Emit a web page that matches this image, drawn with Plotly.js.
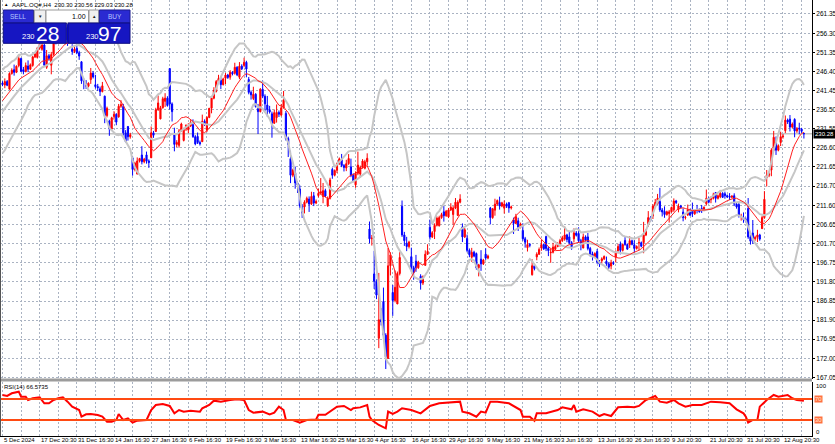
<!DOCTYPE html>
<html><head><meta charset="utf-8">
<script src="https://cdn.plot.ly/plotly-3.0.1.min.js"></script>
<style>html,body{margin:0;padding:0;background:#fff;overflow:hidden}#chart{width:835px;height:444px}</style>
</head><body><div id="chart"></div>
<script>
// ---------- data ----------
const timeLabels = ['5 Dec 2024','17 Dec 20:30','31 Dec 16:30','14 Jan 16:30','27 Jan 16:30','6 Feb 16:30','19 Feb 16:30','3 Mar 16:30','13 Mar 16:30','25 Mar 16:30','4 Apr 16:30','16 Apr 16:30','29 Apr 16:30','9 May 16:30','21 May 16:30','3 Jun 16:30','13 Jun 16:30','26 Jun 16:30','9 Jul 20:30','21 Jul 20:30','31 Jul 20:30','12 Aug 20:30'];
const priceLabels = ['261.35','256.30','251.35','246.40','241.45','236.50','231.55','226.60','221.65','216.70','211.60','206.65','201.70','196.75','191.80','186.85','181.90','176.95','172.00','167.05'];
// closes of the H4 bars just before the first visible bar (indicator warm-up only, not drawn)
const warmupClose = [229.0,228.0,228.52,229.3,229.87,231.8,232.87,234.3,235.06,234.6,234.93,237.33,238.6,239.59,241.6,242.65,242.3,243.01,243.6];
const open = [243.4,242.9,243.8,241.83,245.9,246.89,246.2,247.96,249.8,246.89,246.4,247.82,247.0,247.99,250.2,250.08,252.5,252.16,253.3,247.5,250.5,248.04,250.8,254.77,254.3,255.49,258.19,258.8,257.83,254.6,252.23,251.6,252.44,251.3,248.93,244.0,243.36,242.6,244.31,246.0,242.98,242.5,241.92,241.2,240.01,235.0,233.53,231.5,234.75,235.3,234.64,237.4,237.35,230.5,232.12,229.5,224.0,221.0,219.79,223.2,224.74,223.0,224.78,223.2,224.02,230.5,230.85,236.5,234.12,237.0,238.67,239.5,247.19,238.0,229.99,227.5,227.25,231.0,228.53,231.5,231.29,232.3,232.6,229.5,229.57,228.0,228.2,233.5,231.2,234.5,236.91,239.5,241.25,243.8,244.15,243.0,244.66,245.5,244.94,246.2,245.95,247.5,244.93,247.8,248.0,248.8,244.33,241.0,239.41,240.5,236.95,236.0,241.79,240.0,237.71,236.5,235.42,233.0,234.44,235.8,235.11,237.0,235.54,229.0,223.81,219.5,220.14,217.5,215.95,211.5,211.25,212.5,213.31,212.0,214.16,212.3,214.22,214.8,213.99,215.5,211.56,213.5,221.0,219.5,220.77,222.5,223.51,222.0,221.39,222.5,221.67,219.5,217.01,220.0,219.81,221.5,221.32,223.0,205.54,203.0,193.89,192.0,177.2,182.0,186.7,178.0,171.95,196.0,189.07,187.0,186.1,194.0,211.44,204.0,201.86,201.0,198.36,195.5,197.2,195.5,193.27,191.5,196.12,199.0,206.0,203.5,204.89,206.5,206.37,208.5,210.0,209.0,208.69,210.5,209.3,211.0,209.08,212.5,206.09,203.5,203.1,200.0,198.21,199.5,199.17,195.5,197.72,196.5,199.0,198.0,210.97,208.5,210.43,212.0,212.43,211.5,210.95,212.0,212.36,211.0,207.91,207.0,207.67,206.0,205.17,203.0,200.71,201.5,193.67,196.0,198.3,199.0,200.59,201.5,203.58,200.5,199.37,199.5,200.28,201.0,201.35,202.5,202.91,204.0,203.5,202.0,203.0,204.5,204.39,202.5,200.6,203.5,203.5,200.5,199.08,198.3,199.73,197.0,197.3,197.8,197.2,196.5,195.94,196.8,198.24,199.5,201.63,200.0,202.59,201.5,201.45,202.5,201.43,200.5,201.89,202.0,202.01,204.0,206.67,208.5,208.91,211.5,212.15,212.68,210.5,210.1,209.3,209.53,210.0,210.51,212.8,210.57,211.5,209.93,208.5,209.22,210.5,210.3,209.5,210.57,210.5,210.87,210.5,212.1,213.5,213.14,213.5,215.0,213.5,213.9,214.8,214.7,214.2,214.03,213.8,214.18,212.0,211.9,209.0,208.49,208.0,210.87,203.5,204.51,203.0,203.4,204.0,205.63,208.5,218.88,219.5,220.83,226.0,227.92,226.0,228.01,229.5,231.07,233.8,234.06,232.0,234.0,231.0,231.7,231.5,230.3];
const high = [243.9,244.63,244.2,246.2,247.24,248.21,248.0,250.8,250.0,247.6,248.74,249.29,248.5,250.5,251.38,252.8,253.83,254.28,253.6,252.0,251.0,251.5,255.0,255.3,255.65,258.21,260.1,259.5,258.7,256.0,253.5,252.8,253.28,251.8,249.1,244.6,244.18,243.6,247.33,246.5,245.55,243.2,242.5,243.71,240.16,237.3,233.9,234.67,236.12,235.6,238.0,238.96,238.01,231.2,232.29,230.5,224.42,223.0,224.12,224.0,227.03,224.0,225.63,223.6,232.15,231.0,237.0,240.19,237.5,239.86,240.79,240.0,247.19,238.4,231.83,228.6,231.5,233.13,231.8,232.67,233.0,233.8,234.0,229.9,230.59,228.5,235.23,234.0,234.8,236.96,240.0,242.34,244.2,245.55,245.18,244.8,246.01,245.8,246.78,246.5,248.69,247.8,248.86,248.3,250.0,249.2,244.98,241.5,242.46,240.8,238.0,242.09,244.03,240.5,240.07,237.5,236.0,236.55,237.86,236.3,238.0,241.37,236.16,229.5,225.84,221.2,221.75,218.0,216.84,212.0,213.0,213.95,214.0,215.22,215.15,213.2,216.0,218.76,217.49,216.0,214.0,218.84,221.48,221.0,222.8,224.1,225.02,222.4,223.5,224.99,223.81,220.0,220.5,225.62,222.0,223.68,223.5,225.19,207.49,204.0,199.88,192.5,194.15,185.0,190.34,178.5,200.61,199.5,191.0,194.78,194.5,199.54,212.94,204.8,203.51,202.5,200.7,196.0,198.83,197.3,193.8,193.5,200.0,201.59,208.0,205.0,207.0,208.83,209.0,209.75,211.5,210.5,211.0,212.24,211.5,213.58,213.0,214.56,206.99,205.8,204.1,200.5,200.65,199.9,199.44,196.5,200.05,197.8,200.54,198.9,211.27,211.0,213.4,213.2,213.94,212.6,212.96,212.4,212.57,211.6,208.5,209.48,208.47,207.2,207.04,203.5,202.75,201.9,197.7,196.5,199.5,200.74,202.73,201.8,203.81,201.0,200.5,201.96,201.5,202.13,203.0,203.77,206.24,204.3,204.75,202.4,205.7,205.0,206.0,203.0,204.35,203.9,204.5,200.9,199.68,199.5,200.37,197.5,198.2,198.69,198.39,196.9,197.57,197.2,200.0,201.7,202.3,201.8,203.44,201.8,203.67,202.8,202.64,201.3,203.22,202.3,207.39,205.5,210.19,208.9,212.0,213.34,214.65,216.23,211.0,211.43,210.3,210.5,211.33,213.48,213.1,212.13,211.8,210.91,209.0,211.89,210.8,212.4,210.5,211.8,210.9,211.79,211.4,215.78,213.9,214.0,214.95,215.15,214.5,215.69,215.1,215.24,214.5,214.85,214.3,214.81,212.3,212.39,209.5,209.84,208.5,213.58,204.0,207.88,203.8,205.34,204.3,209.0,215.38,220.85,220.5,226.5,231.0,229.56,227.5,230.8,230.2,235.0,234.2,235.12,233.2,234.28,232.0,233.12,231.8,230.56];
const low = [242.6,242.08,242.6,241.75,245.6,245.34,246.0,247.5,246.26,245.68,246.2,246.24,246.8,247.65,249.9,249.78,252.1,251.8,247.74,247.09,249.2,245.69,250.5,253.45,254.1,255.29,257.63,258.3,253.06,254.0,250.75,251.2,250.9,249.43,243.2,241.82,241.89,242.3,243.2,244.6,242.0,241.35,240.05,241.0,233.0,234.5,229.72,231.2,233.9,232.47,234.43,237.0,229.8,228.03,228.48,229.0,219.38,220.5,219.79,222.8,222.3,222.6,222.5,221.41,223.98,229.2,230.81,236.2,234.01,236.8,237.21,237.3,236.5,233.44,225.7,226.8,226.65,230.7,228.27,231.0,230.43,232.0,229.2,227.26,227.6,227.2,228.13,232.3,230.68,234.3,235.57,239.2,240.99,243.5,241.84,242.8,243.16,244.5,244.29,245.4,245.6,245.22,244.42,246.8,247.5,244.91,240.5,239.13,239.0,237.06,230.2,235.8,239.5,236.11,234.68,235.5,229.23,232.8,233.16,234.6,234.76,236.8,228.5,224.22,217.45,219.0,216.0,214.91,211.0,208.42,209.58,212.2,209.97,211.8,211.49,212.0,213.75,214.5,212.22,213.8,211.28,213.2,218.58,219.2,220.08,222.2,221.6,220.47,220.56,222.2,219.0,217.68,216.23,219.5,218.9,221.2,221.02,222.0,201.8,201.25,190.0,187.34,174.62,180.5,177.5,169.21,171.89,193.5,183.0,186.5,186.06,193.5,203.5,201.16,199.8,200.5,194.5,192.37,194.42,195.2,189.81,191.0,195.97,198.8,202.8,203.2,202.94,206.2,206.2,208.2,207.46,208.7,208.37,210.2,206.67,210.7,208.9,212.2,202.16,203.2,199.5,198.21,197.02,198.2,195.0,193.25,194.68,196.2,197.54,197.7,206.75,208.2,209.0,211.6,210.58,211.2,209.54,211.0,209.77,210.6,204.26,206.8,205.03,205.7,202.5,200.71,199.7,200.8,193.46,194.8,197.43,198.8,199.9,200.1,199.8,198.51,196.78,199.2,200.12,200.8,200.96,202.2,202.5,202.1,201.5,200.15,202.05,203.6,202.0,200.02,200.57,202.3,200.0,198.41,197.36,198.0,196.5,195.7,196.56,197.5,196.0,195.21,195.07,196.2,196.86,199.2,198.96,199.7,201.2,200.2,200.62,201.3,199.46,200.2,200.0,200.8,199.26,203.7,206.14,207.4,208.14,211.2,211.81,210.0,208.8,208.45,209.0,207.22,209.8,210.03,212.0,209.86,210.9,207.54,208.0,208.92,209.0,208.64,209.2,209.59,209.8,209.7,210.2,211.63,212.2,212.23,213.2,212.41,213.2,213.53,213.6,213.4,213.6,213.06,213.5,211.5,210.82,208.5,207.72,207.16,207.2,203.0,201.5,201.68,202.5,202.16,202.5,205.59,208.2,216.58,219.0,219.25,225.8,224.76,225.7,227.07,229.0,230.43,232.8,230.85,231.7,229.34,230.5,230.11,230.5,229.03];
const close = [243.04,243.8,242.84,245.9,246.75,246.2,247.77,249.8,246.49,246.4,247.96,247.0,248.13,250.2,251.04,252.5,253.48,253.3,248.05,250.5,249.79,250.8,254.49,254.3,255.27,258.2,258.8,259.02,254.6,255.59,251.6,252.2,251.3,250.42,244.0,243.85,242.6,243.36,246.0,245.0,242.5,242.21,241.2,242.7,235.0,236.85,231.5,234.4,235.3,233.28,237.4,237.87,230.5,228.26,229.5,229.98,221.0,222.64,223.2,223.83,223.0,223.66,223.2,222.78,230.5,229.86,236.5,238.26,237.0,239.36,239.5,237.59,238.0,236.0,227.5,228.01,231.0,232.8,231.5,232.47,232.3,233.22,229.5,227.63,228.0,227.65,233.5,232.62,234.5,236.87,239.5,241.53,243.8,244.6,243.0,244.47,245.5,244.87,246.2,245.83,247.5,245.55,247.8,247.1,248.8,247.04,241.0,240.36,240.5,237.3,236.0,241.84,240.0,238.03,236.5,235.93,233.0,235.74,235.8,235.33,237.0,239.07,229.0,227.48,219.5,220.84,217.5,216.98,211.5,209.68,212.5,213.49,212.0,214.0,212.3,212.69,214.8,215.24,215.5,214.1,213.5,218.27,219.5,220.73,222.5,223.75,222.0,221.53,222.5,223.85,219.5,217.9,220.0,222.13,221.5,223.19,223.0,223.89,203.0,203.19,192.0,188.38,182.0,181.46,178.0,172.42,196.0,198.85,187.0,190.42,194.0,198.15,204.0,202.52,201.0,202.14,195.5,194.27,195.5,196.98,191.5,193.16,199.0,199.74,203.5,204.6,206.5,208.37,208.5,209.28,209.0,210.14,210.5,211.21,211.0,212.5,212.5,213.32,203.5,205.35,200.0,198.89,199.5,198.51,195.5,196.25,196.5,197.49,198.0,198.53,208.5,210.79,212.0,212.93,211.5,212.33,212.0,211.45,211.0,211.26,207.0,208.78,206.0,206.86,203.0,202.09,201.5,201.36,196.0,195.27,199.0,200.21,201.5,200.42,200.5,199.95,199.5,200.85,201.0,201.7,202.5,203.27,204.0,202.82,202.0,200.63,204.5,203.92,202.5,201.45,203.5,202.67,200.5,198.78,198.3,199.2,197.0,196.45,197.8,198.42,196.5,195.64,196.8,196.58,199.5,201.0,200.0,201.5,201.5,200.3,202.5,201.56,200.5,201.0,202.0,201.08,204.0,205.17,208.5,207.82,211.5,212.44,213.55,210.5,209.95,209.3,210.01,210.0,211.14,212.8,212.41,211.5,211.16,208.5,208.62,210.5,209.11,209.5,210.16,210.5,210.02,210.5,211.18,213.5,212.48,213.5,214.4,213.5,214.15,214.8,213.76,214.2,213.88,213.8,214.05,212.0,211.27,209.0,209.05,208.0,207.57,203.5,202.38,203.0,203.35,204.0,202.92,208.5,213.25,219.5,220.03,226.0,229.35,226.0,227.18,229.5,229.65,233.8,233.33,232.0,232.78,231.0,231.59,231.5,230.89,230.28];
const rsiBar = [0,2,4,6,7,8,10,11,13,16,18,20,22,24,26,28,30,33,34,36,38,41,43,45,47,49,50,52,54,56,58,62,64,66,69,72,74,76,78,81,85,86,89,91,94,98,101,104,106,108,112,115,117,119,121,122,125,128,131,135,136,139,141,144,147,150,151,154,157,158,159,162,165,166,168,170,172,176,180,184,188,193,197,198,201,204,206,208,210,213,218,223,224,227,229,230,234,239,241,245,246,247,250,254,257,259,262,265,269,272,274,277,281,283,286,289,291,294,297,301,303,305,309,313,316,319,320,321,323,325,326,329,332,334,338,340,342,345];
const rsiVal = [77.6,75.7,80.8,82.1,83.9,74.4,74.4,68.1,71.3,73.2,61.8,61.8,68.1,71.3,73.2,64.9,55.4,49.0,36.3,40.8,41.4,39.5,36.3,26.8,26.8,30.0,41.4,30.0,33.2,24.9,28.7,30.0,49.0,58.6,60.5,56.7,42.7,49.0,45.9,47.8,45.9,52.3,58.6,66.8,64.9,68.1,69.4,68.1,49.0,43.9,45.9,40.8,43.9,55.4,49.0,30.0,30.0,24.9,30.0,31.0,40.0,40.0,45.9,55.4,56.7,49.0,52.3,54.0,58.6,36.3,30.0,20.5,14.1,45.9,41.4,45.9,52.3,49.0,42.7,56.7,61.8,63.0,64.9,45.9,42.7,36.3,45.9,43.9,64.9,64.9,61.8,49.0,36.3,36.3,28.7,42.7,42.7,49.0,54.1,50.3,58.6,45.9,50.3,45.9,37.6,41.4,37.6,54.1,55.4,54.1,56.7,68.1,75.7,64.9,63.0,68.1,61.8,55.4,58.6,58.6,61.8,64.9,63.6,61.8,50.3,42.7,36.3,24.9,30.0,30.6,55.4,68.1,77.6,74.4,77.6,71.3,68.1,66.57];
const rsiLevels = [70, 30];
const maPeriod = 14, bbPeriod = 20, bbDev = 2;   // chart indicator settings
const rsiTitle = 'RSI(14) 66.5735';
const header = 'AAPL.OQ#,H4  230.30 230.56 229.03 230.28';
const bidPrice = 230.28;
const lotText = '1.00', sellBig = '28', buyBig = '97', quotePrefix = '230';

// ---------- indicators derived from the close series (as the terminal draws them) ----------
const series = warmupClose.concat(close), off = warmupClose.length;
function windowAt(i, n) { return series.slice(off + i - n + 1, off + i + 1); }
const ma = close.map((_, i) => { const w = windowAt(i, maPeriod); return w.reduce((a, b) => a + b, 0) / w.length; });
const bbMid = [], bbUp = [], bbLo = [];
close.forEach((_, i) => {
  const w = windowAt(i, bbPeriod), m = w.reduce((a, b) => a + b, 0) / w.length;
  const sd = Math.sqrt(w.reduce((a, b) => a + (b - m) * (b - m), 0) / w.length);
  bbMid.push(m); bbUp.push(m + bbDev * sd); bbLo.push(m - bbDev * sd);
});

// ---------- geometry (pixels of the 835x444 canvas) ----------
const W = 835, H = 444, MR = 23, MB = 8;
const PW = W - MR, PH = H - MB;
const fx = p => p / PW;
const fy = p => 1 - p / PH;
const barPx0 = 2.5, barStep = 2.3229;
const xRange = [-barPx0 / barStep, (PW - barPx0) / barStep];
const FONT = 'Liberation Sans, Arial, sans-serif';

const xTickVals = [];
for (let k = 0; k * 8 < open.length; k++) xTickVals.push(k * 8);
const bars = open.map((_, i) => i);

const bandLine = {color: '#c6c6c6', width: 2};
const traces = [
  {type: 'candlestick', x: bars, open, high, low, close, xaxis: 'x', yaxis: 'y',
   increasing: {line: {color: '#ff0000', width: 1}, fillcolor: '#ff0000'},
   decreasing: {line: {color: '#0000ff', width: 1}, fillcolor: '#0000ff'},
   whiskerwidth: 0, hoverinfo: 'skip', showlegend: false},
  {type: 'scatter', mode: 'lines', x: bars, y: bbUp, line: bandLine, hoverinfo: 'skip', showlegend: false},
  {type: 'scatter', mode: 'lines', x: bars, y: bbMid, line: bandLine, hoverinfo: 'skip', showlegend: false},
  {type: 'scatter', mode: 'lines', x: bars, y: bbLo, line: bandLine, hoverinfo: 'skip', showlegend: false},
  {type: 'scatter', mode: 'lines', x: bars, y: ma, line: {color: '#ff2020', width: 1}, hoverinfo: 'skip', showlegend: false},
  {type: 'scatter', mode: 'lines', x: rsiBar, y: rsiVal, xaxis: 'x', yaxis: 'y2',
   line: {color: '#ff0000', width: 2}, hoverinfo: 'skip', showlegend: false}
];

const gridCol = '#aab3c2';
const shapes = [];
const annotations = [];
function rect(x0, y0, x1, y1, fill, line) {
  shapes.push({type: 'rect', xref: 'paper', yref: 'paper', x0: fx(x0), x1: fx(x1), y0: fy(y1), y1: fy(y0),
    fillcolor: fill, line: {color: line || fill, width: line ? 1 : 0}, layer: 'above'});
}
function txt(x, y, text, size, color, xanchor, extra) {
  annotations.push(Object.assign({xref: 'paper', yref: 'paper', x: fx(x), y: fy(y), text,
    showarrow: false, xanchor: xanchor || 'left', yanchor: 'middle', borderpad: 0,
    font: {family: FONT, size, color}}, extra || {}));
}
rsiLevels.forEach(v => shapes.push({type: 'line', xref: 'paper', yref: 'y2', x0: 0, x1: 1, y0: v, y1: v,
  line: {color: '#ff4a12', width: 2}, layer: 'above'}));
shapes.push({type: 'line', xref: 'paper', yref: 'y', x0: 0, x1: 1, y0: bidPrice, y1: bidPrice,
  line: {color: '#c4c4c4', width: 1.5}, layer: 'below'});
rect(0, 378.5, PW, 381.5, '#9c9c9c');
shapes.push({type: 'line', xref: 'paper', yref: 'paper', x0: fx(0.5), x1: fx(0.5), y0: 0, y1: 1, line: {color: '#555', width: 1}});
// one-click trading panel
rect(3.3, 10, 33.5, 23, '#2a2ad2', '#1a1a90');
rect(34.3, 10, 45.7, 23, '#f0f0f0', '#9a9a9a');
rect(46, 10, 88.5, 23, '#ffffff', '#9a9a9a');
rect(89, 10, 98.7, 23, '#f0f0f0', '#9a9a9a');
rect(99.3, 10, 130, 23, '#2a2ad2', '#1a1a90');
rect(3.3, 23, 66.3, 43.3, '#1616c2', '#0c0c80');
rect(68, 23, 130, 43.3, '#1616c2', '#0c0c80');

txt(11, 5, header, 6, '#000');
txt(3, 5, '▲', 4.5, '#000');
txt(18.4, 16.5, 'SELL', 6.5, '#b8c8ff', 'center');
txt(40, 16.5, '▼', 4.5, '#222', 'center');
txt(87, 16.5, lotText, 7, '#000', 'right');
txt(93.8, 16.5, '▲', 4.5, '#222', 'center');
txt(114.6, 16.5, 'BUY', 6.5, '#b8c8ff', 'center');
txt(21, 36.5, quotePrefix, 7.5, '#ffffff');
txt(35, 33, sellBig, 21, '#ffffff');
txt(84.5, 36.5, quotePrefix, 7.5, '#ffffff');
txt(97, 33, buyBig, 21, '#ffffff');
// time labels, left-aligned on every second vertical grid line
timeLabels.forEach((t, k) => txt(barPx0 + k * 16 * barStep, 440, t, 6, '#000'));
// RSI title and labels
txt(2.5, 386.5, rsiTitle, 6, '#000');
txt(PW + 2.5, 386, '100', 6, '#000');
txt(PW + 2.5, 432, '0', 6, '#000');
rsiLevels.forEach(v => annotations.push({xref: 'paper', yref: 'y2', x: fx(PW + 1.5), y: v, text: String(v),
  showarrow: false, xanchor: 'left', yanchor: 'middle', bgcolor: '#ff7040', borderpad: 0,
  font: {family: FONT, size: 6, color: '#ffe8d8'}}));
annotations.push({xref: 'paper', yref: 'y', x: fx(PW + 0.5), y: bidPrice, text: bidPrice.toFixed(2),
  showarrow: false, xanchor: 'left', yanchor: 'middle', bgcolor: '#000', borderpad: 1,
  font: {family: FONT, size: 6, color: '#fff'}});

const layout = {
  width: W, height: H, margin: {l: 0, r: MR, t: 0, b: MB, pad: 0},
  paper_bgcolor: '#fff', plot_bgcolor: '#fff', showlegend: false,
  font: {family: FONT, size: 6, color: '#000'},
  xaxis: {anchor: 'y2', domain: [0, 1], range: xRange, tickvals: xTickVals, showticklabels: false,
    ticks: '', showgrid: true, gridcolor: gridCol, griddash: '2px,2px', gridwidth: 1,
    zeroline: false, showline: true, linecolor: '#000', linewidth: 1, rangeslider: {visible: false}, fixedrange: true},
  yaxis: {domain: [fy(378.5), 1], range: [167.05 - 0.3, 264.97], side: 'right', anchor: 'x',
    tickvals: priceLabels.map(Number), ticktext: priceLabels, ticks: 'outside', ticklen: 2, tickcolor: '#000',
    tickfont: {size: 6.5, family: FONT, color: '#000'},
    showgrid: true, gridcolor: gridCol, griddash: '2px,2px', gridwidth: 1,
    zeroline: false, showline: true, linecolor: '#000', linewidth: 1, fixedrange: true},
  yaxis2: {domain: [0, fy(381.5)], range: [-0.5, 103.3], side: 'right', anchor: 'x',
    showticklabels: false, ticks: '', showgrid: false, zeroline: false,
    showline: true, linecolor: '#000', linewidth: 1, fixedrange: true},
  shapes, annotations
};
Plotly.newPlot('chart', traces, layout, {displayModeBar: false, staticPlot: true});
</script>
</body></html>
